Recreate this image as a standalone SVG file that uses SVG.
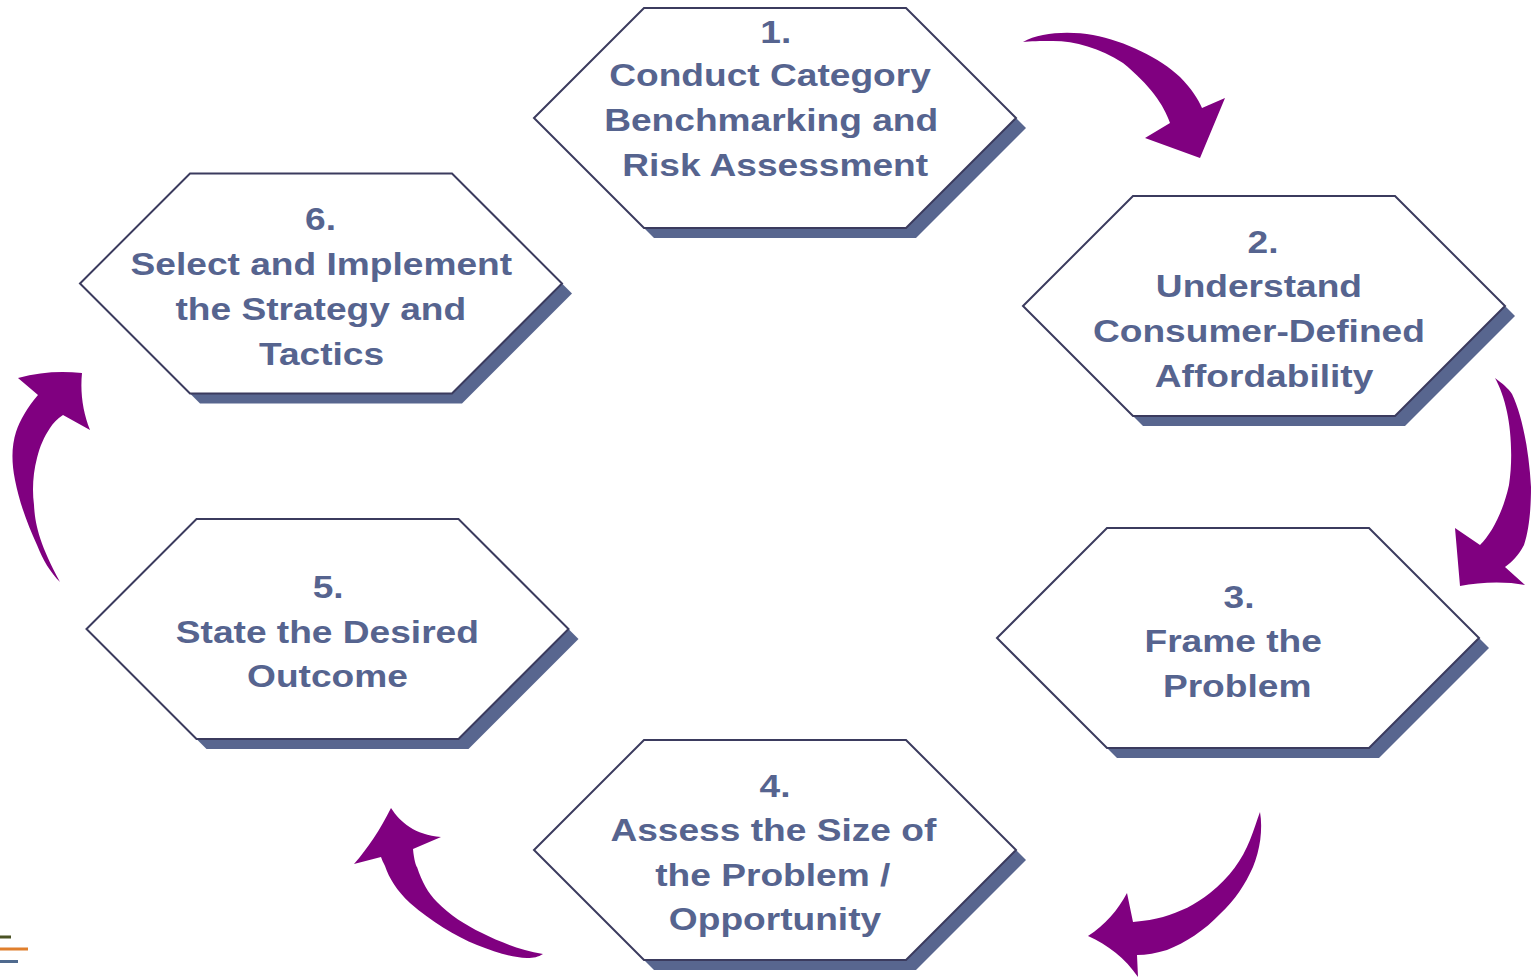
<svg xmlns="http://www.w3.org/2000/svg" xmlns:xlink="http://www.w3.org/1999/xlink" width="1531" height="979" viewBox="0 0 1531 979">
  <style>
    .shadow { fill: #58668f; }
    .hex { fill: #ffffff; stroke: #3b3b5e; stroke-width: 2; stroke-linejoin: miter; }
    .label { font-family: "Liberation Sans", Arial, sans-serif; font-weight: bold; font-size: 32px; fill: #56648f; text-anchor: middle; }
    .arrow { fill: #800080; }
  </style>
  <defs>
    <!-- hexagon centred on the origin: 482 wide, 220 tall -->
    <polygon id="hexShape" points="-241,0 -131,-110 131,-110 241,0 131,110 -131,110"/>
  </defs>

  <!-- step 1 -->
  <g id="step1">
    <use xlink:href="#hexShape" class="shadow" transform="translate(785 128)"/>
    <use xlink:href="#hexShape" class="hex" transform="translate(775 118)"/>
    <text class="label" transform="translate(774 0) scale(1.16 1)">
      <tspan x="6" y="43">1.</tspan>
      <tspan x="1" y="86">Conduct Category</tspan>
      <tspan x="2" y="131">Benchmarking and</tspan>
      <tspan x="1" y="176">Risk Assessment</tspan>
    </text>
  </g>

  <!-- step 2 -->
  <g id="step2">
    <use xlink:href="#hexShape" class="shadow" transform="translate(1274 316)"/>
    <use xlink:href="#hexShape" class="hex" transform="translate(1264 306)"/>
    <text class="label" transform="translate(1260 0) scale(1.16 1)">
      <tspan x="7" y="253">2.</tspan>
      <tspan x="3.5" y="297">Understand</tspan>
      <tspan x="3.5" y="342">Consumer-Defined</tspan>
      <tspan x="3.5" y="387">Affordability</tspan>
    </text>
  </g>

  <!-- step 3 -->
  <g id="step3">
    <use xlink:href="#hexShape" class="shadow" transform="translate(1248 648)"/>
    <use xlink:href="#hexShape" class="hex" transform="translate(1238 638)"/>
    <text class="label" transform="translate(1236 0) scale(1.16 1)">
      <tspan x="7" y="608">3.</tspan>
      <tspan x="2" y="652">Frame the</tspan>
      <tspan x="1" y="697">Problem</tspan>
    </text>
  </g>

  <!-- step 4 -->
  <g id="step4">
    <use xlink:href="#hexShape" class="shadow" transform="translate(785 860)"/>
    <use xlink:href="#hexShape" class="hex" transform="translate(775 850)"/>
    <text class="label" transform="translate(775 0) scale(1.16 1)">
      <tspan x="4.5" y="797">4.</tspan>
      <tspan x="3" y="841">Assess the Size of</tspan>
      <tspan x="2.5" y="886">the Problem /</tspan>
      <tspan x="0" y="930">Opportunity</tspan>
    </text>
  </g>

  <!-- step 5 -->
  <g id="step5">
    <use xlink:href="#hexShape" class="shadow" transform="translate(337.5 639)"/>
    <use xlink:href="#hexShape" class="hex" transform="translate(327.5 629)"/>
    <text class="label" transform="translate(327.5 0) scale(1.16 1)">
      <tspan x="5" y="598">5.</tspan>
      <tspan x="4.3" y="643">State the Desired</tspan>
      <tspan x="0" y="687">Outcome</tspan>
    </text>
  </g>

  <!-- step 6 -->
  <g id="step6">
    <use xlink:href="#hexShape" class="shadow" transform="translate(331 293.5)"/>
    <use xlink:href="#hexShape" class="hex" transform="translate(321 283.5)"/>
    <text class="label" transform="translate(321 0) scale(1.16 1)">
      <tspan x="4" y="230">6.</tspan>
      <tspan x="4.7" y="275">Select and Implement</tspan>
      <tspan x="4.3" y="320">the Strategy and</tspan>
      <tspan x="0.5" y="365">Tactics</tspan>
    </text>
  </g>

  <!-- curved block arrows between consecutive steps -->
  <g id="connectors">
    <!-- 1 to 2 -->
    <path class="arrow" d="M1023,42 C1040,32 1070,31 1093,35 C1125,41 1160,58 1180,77 C1192,89 1198,99 1202,108 L1225,98 L1200,158 L1145,138 L1170,123 C1164,105 1150,85 1123,63 C1100,48 1075,41 1053,41 C1040,41 1030,41 1023,42 Z"/>
    <!-- 2 to 3 -->
    <path class="arrow" d="M1495,378 C1503,384 1508,388 1512,394 C1522,415 1529,450 1531,487 C1531,510 1529,530 1524,545 C1518,556 1512,562 1505,567 L1525,585 C1505,581 1480,582 1460,586 L1455,528 L1480,545 C1492,533 1503,512 1509,485 C1513,460 1511,430 1507,412 C1504,398 1500,387 1495,378 Z"/>
    <!-- 3 to 4 -->
    <path class="arrow" d="M1260,812 C1263,830 1260,850 1253,867 C1245,885 1235,900 1220,914 C1205,930 1185,943 1167,950 C1157,953 1146,955 1137,955 L1138,977 C1125,958 1108,945 1088,936 C1105,925 1118,910 1127,893 L1133,922 C1145,921 1155,919 1163,917 C1180,912 1195,905 1210,893 C1230,877 1242,860 1250,840 C1254,830 1257,820 1260,812 Z"/>
    <!-- 4 to 5 -->
    <path class="arrow" d="M543,954 C538,957 534,958 527,958 C510,957 495,952 477,945 C455,936 432,922 410,903 C397,891 389,878 385,866 C383,862 382,860 381,857 L354,864 C368,848 380,830 391,808 C400,822 415,835 441,837 L413,849 C414,860 416,866 417,867 C422,882 428,893 437,902 C450,915 465,925 482,933 C500,942 520,950 543,954 Z"/>
    <!-- 5 to 6 -->
    <path class="arrow" d="M60,582 C50,572 43,560 37,545 C28,525 20,505 15,480 C11,460 12,445 16,432 C20,420 27,408 38,395 L18,378 C40,372 60,371 82,373 C80,393 83,412 90,430 L63,415 C57,419 53,423 50,428 C44,437 40,446 37,458 C33,473 32,490 34,505 C35,525 40,545 60,582 Z"/>
  </g>

  <!-- small coloured rules at the lower left edge -->
  <g id="corner-rules">
    <rect x="0" y="935.5" width="11" height="3" fill="#4b5325"/>
    <rect x="0" y="947.5" width="28" height="3" fill="#e07f2c"/>
    <rect x="0" y="960" width="18" height="3" fill="#4f6a8e"/>
  </g>
</svg>
